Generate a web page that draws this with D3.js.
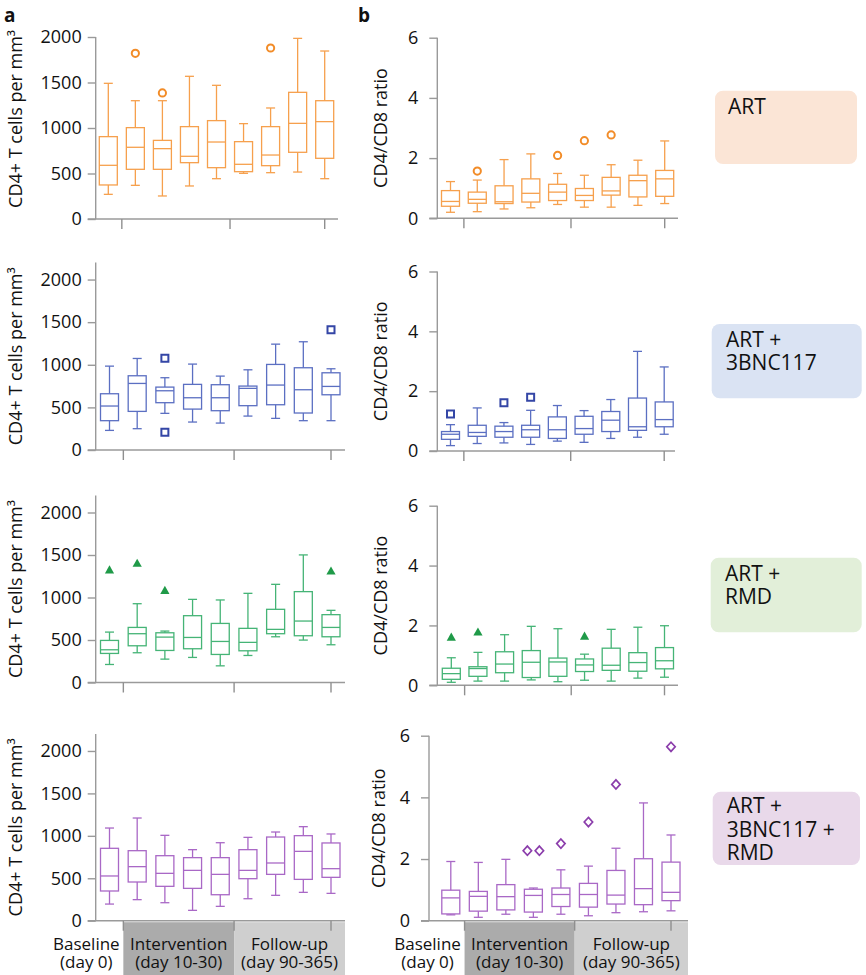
<!DOCTYPE html>
<html><head><meta charset="utf-8">
<script src="https://cdn.jsdelivr.net/npm/d3@7"></script>
<style>body{margin:0;background:#fff} svg{display:block} text{font-family:"Open Sans",sans-serif;fill:#111}</style>
</head><body>
<svg id="c" width="866" height="975"></svg>
<script>
const timepoints = ["T0","T1","T2","T3","T4","T5","T6","T7","T8"];
const groupLabels = [["ART"],["ART +","3BNC117"],["ART +","RMD"],["ART +","3BNC117 +","RMD"]];
const cd4Ticks = [0,500,1000,1500,2000];
const ratioTicks = [0,2,4,6];
const phaseLabels = [["Baseline","(day 0)"],["Intervention","(day 10-30)"],["Follow-up","(day 90-365)"]];
const cd4Title = "CD4+ T cells per mm\u00B3";
const ratioTitle = "CD4/CD8 ratio";

// each box: [low whisker, Q1, median, Q3, high whisker]
const cd4Art = [[271,374,590,905,1491],[370,546,788,1004,1300],[253,546,773,864,1300],[363,619,689,1015,1568],[443,564,846,1081,1469],[502,520,601,850,1048],[509,586,703,1015,1220],[516,733,1051,1392,1985],[443,667,1070,1300,1846]];
const cd4ArtOut = [[],[1821],[1385],[],[],[],[1879],[],[]];
const ratioArt = [[0.20,0.40,0.56,0.92,1.22],[0.22,0.50,0.63,0.87,1.27],[0.31,0.49,0.55,1.08,1.95],[0.35,0.54,0.83,1.31,2.14],[0.46,0.59,0.87,1.13,1.49],[0.37,0.59,0.76,0.99,1.43],[0.37,0.77,0.91,1.36,1.78],[0.43,0.71,1.25,1.43,1.93],[0.49,0.73,1.31,1.59,2.57]];
const ratioArtOut = [[],[1.57],[],[],[2.09],[2.58],[2.77],[],[]];

const cd4Bnc = [[230,344,516,660,984],[250,453,781,871,1074],[430,555,695,738,848],[328,480,613,770,1008],[316,461,613,766,867],[398,520,723,750,941],[371,531,762,1004,1242],[344,434,707,965,1270],[344,648,746,906,953]];
const cd4BncOut = [[],[],[1078,207],[],[],[],[],[],[1410]];
const ratioBnc = [[0.18,0.39,0.56,0.65,0.88],[0.25,0.49,0.62,0.86,1.44],[0.27,0.46,0.65,0.83,0.95],[0.22,0.46,0.71,0.86,1.36],[0.33,0.42,0.71,1.14,1.52],[0.29,0.56,0.75,1.16,1.35],[0.42,0.65,1.03,1.32,1.72],[0.46,0.69,0.81,1.77,3.33],[0.56,0.81,1.05,1.64,2.81]];
const ratioBncOut = [[1.24],[],[1.61],[1.80],[],[],[],[],[]];

const cd4Rmd = [[212,342,385,495,593],[350,432,574,648,927],[275,377,534,585,605],[295,397,530,786,978],[196,330,483,695,971],[318,373,472,637,1049],[538,574,625,861,1155],[499,550,723,1069,1501],[444,538,648,798,849]];
const cd4RmdOut = [[1324],[1403],[1084],[],[],[],[],[],[1312]];
const ratioRmd = [[0.10,0.20,0.39,0.57,0.92],[0.14,0.30,0.56,0.62,1.10],[0.14,0.42,0.71,1.12,1.69],[0.18,0.26,0.77,1.16,1.97],[0.12,0.30,0.78,0.91,1.89],[0.17,0.46,0.68,0.88,1.04],[0.14,0.50,0.67,1.24,1.87],[0.24,0.47,0.76,1.09,1.94],[0.27,0.55,0.82,1.26,1.99]];
const ratioRmdOut = [[1.61],[1.78],[],[],[],[1.64],[],[],[]];

const cd4Triple = [[196,350,527,853,1092],[248,456,637,825,1210],[212,405,558,766,1006],[122,381,593,743,837],[169,306,546,743,919],[259,495,593,837,982],[299,546,680,986,1045],[334,487,817,1002,1108],[322,511,613,916,1022]];
const cd4TripleOut = [[],[],[],[],[],[],[],[],[]];
const ratioTriple = [[0.19,0.22,0.74,0.99,1.92],[0.11,0.31,0.79,0.95,1.89],[0.21,0.35,0.78,1.17,1.99],[0.11,0.28,0.82,1.02,1.06],[0.21,0.46,0.85,1.06,1.65],[0.16,0.44,0.85,1.21,1.77],[0.26,0.54,0.83,1.63,2.35],[0.29,0.52,1.04,2.01,3.82],[0.32,0.65,0.92,1.90,2.78]];
const ratioTripleOut = [[],[],[],[2.27,2.27],[2.50],[3.20],[4.42],[],[5.64]];

// styles
const boxColors = ["#f6a04d","#5b6fc2","#45b476","#a968c6"];
const outColors = ["#f28c28","#3446a6","#1f9a48","#8b3dab"];
const legendFills = ["#fbe5d6","#dae3f3","#e2efd9","#e9d9ea"];
const markerTypes = ["circle","square","triangle","diamond"];

const svg = d3.select("#c");

const cd4Data = [cd4Art,cd4Bnc,cd4Rmd,cd4Triple];
const cd4Out = [cd4ArtOut,cd4BncOut,cd4RmdOut,cd4TripleOut];
const ratioData = [ratioArt,ratioBnc,ratioRmd,ratioTriple];
const ratioOut = [ratioArtOut,ratioBncOut,ratioRmdOut,ratioTripleOut];

// layout per row
const rows = [
  {a:{y0:219,   yTop:37,  max:2000, x0:108.3, x8:324.7, ax:95.7, xEnd:338},
   b:{y0:218.3, y6:37.7,  x0:450.5, x8:664.7, ax:437.3, xEnd:678},
   leg:{x:715, y:90.7, w:142, h:73.3, ty:113.5, tx:728}},
  {a:{y0:450,   yTop:262.5, max:2200, x0:109.5, x8:331, ax:95.7, xEnd:345},
   b:{y0:451,   y6:271.5, x0:450.5, x8:664.2, ax:437.3, xEnd:675},
   leg:{x:711.7, y:324, w:150, h:74.3, ty:346.7, tx:726}},
  {a:{y0:682.5, yTop:495.5, max:2200, x0:109.5, x8:331, ax:95.7, xEnd:345},
   b:{y0:685.3, y6:505.7, x0:451.3, x8:664.5, ax:437.3, xEnd:678},
   leg:{x:710.7, y:557.7, w:151, h:74.6, ty:580.7, tx:725}},
  {a:{y0:920.7, yTop:734, max:2200, x0:109.5, x8:331, ax:95.7, xEnd:345},
   b:{y0:920.7, y6:735.7, x0:450.8, x8:671, ax:429, xEnd:688},
   leg:{x:712.7, y:791.7, w:147.3, h:73.3, ty:813.3, tx:726.7}}
];

function markerPath(type){
  if(type==="square") return "M-3.5,-3.5H3.5V3.5H-3.5Z";
  if(type==="triangle") return "M0,-4.6L4.6,3.6H-4.6Z";
  return "M0,-4.6L4.2,0L0,4.6L-4.2,0Z";
}

function drawPanel(g, boxes, outs, y, x, gi, yTicks, yTitle, titleX, titleValue, axX, xEnd, tickPad, isBottom, y0){
  const col = boxColors[gi], ocol = outColors[gi];
  const bw = 18, cw = 9;
  const yAxis = d3.axisLeft(y).tickValues(yTicks).tickFormat(d3.format("d")).tickSize(8).tickSizeOuter(0).tickPadding(tickPad);
  const ya = g.append("g").attr("transform",`translate(${axX},0)`).call(yAxis);
  ya.selectAll("path,line").attr("stroke","#9a9a9a").attr("stroke-width",1.4);
  ya.selectAll("text").attr("font-size",18).attr("fill","#111").style("font-family","'Open Sans',sans-serif");
  ya.select(".domain").attr("d",`M0,${y.range()[1]}V${y0}`);
  const xa = g.append("g");
  xa.append("line").attr("x1",axX-8).attr("x2",xEnd).attr("y1",y0).attr("y2",y0).attr("stroke","#9a9a9a").attr("stroke-width",1.4);
  if(isBottom){
    const top = y0+1.5;
    g.append("rect").attr("x",x(0.5)).attr("y",top).attr("width",x(4.5)-x(0.5)).attr("height",975-top).attr("fill","#ababab");
    g.append("rect").attr("x",x(4.5)).attr("y",top).attr("width",xEnd-x(4.5)).attr("height",975-top).attr("fill","#cfcfcf");
    const centers = [x(0.5)-37, (x(0.5)+x(4.5))/2, (x(4.5)+xEnd)/2];
    phaseLabels.forEach((lab,k)=>{
      g.append("text").attr("text-anchor","middle").attr("font-size",17).attr("x",centers[k]).attr("y",950).text(lab[0]);
      g.append("text").attr("text-anchor","middle").attr("font-size",17).attr("x",centers[k]).attr("y",968).text(lab[1]);
    });
  }
  [0.5,4.5,8].forEach(t=>{
    xa.append("line").attr("x1",x(t)).attr("x2",x(t)).attr("y1",y0).attr("y2",y0+10).attr("stroke","#8f8f8f").attr("stroke-width",1.4);
  });
  xa.raise();
  g.append("text").attr("transform",`translate(${titleX},${y(titleValue)}) rotate(-90)`)
    .attr("text-anchor","middle").attr("font-size",18).text(yTitle);
  const bg = g.append("g").attr("fill","none").attr("stroke",col).attr("stroke-width",1.3);
  boxes.forEach((d,i)=>{
    const cx = x(i);
    const [lo,q1,md,q3,hi] = d;
    bg.append("line").attr("x1",cx).attr("x2",cx).attr("y1",y(hi)).attr("y2",y(q3));
    bg.append("line").attr("x1",cx).attr("x2",cx).attr("y1",y(q1)).attr("y2",y(lo));
    bg.append("line").attr("x1",cx-cw/2).attr("x2",cx+cw/2).attr("y1",y(hi)).attr("y2",y(hi));
    bg.append("line").attr("x1",cx-cw/2).attr("x2",cx+cw/2).attr("y1",y(lo)).attr("y2",y(lo));
    bg.append("rect").attr("x",cx-bw/2).attr("y",y(q3)).attr("width",bw).attr("height",y(q1)-y(q3));
    bg.append("line").attr("x1",cx-bw/2).attr("x2",cx+bw/2).attr("y1",y(md)).attr("y2",y(md));
  });
  const mt = markerTypes[gi];
  outs.forEach((arr,i)=>{
    arr.forEach((v,j)=>{
      const same = arr.filter(w=>Math.abs(w-v)<1e-9);
      const k = arr.slice(0,j).filter(w=>Math.abs(w-v)<1e-9).length;
      const dx = same.length>1 ? (k-(same.length-1)/2)*12 : 0;
      const cx = x(i)+dx, cy = y(v);
      if(mt==="circle"){
        g.append("circle").attr("cx",cx).attr("cy",cy).attr("r",3.6).attr("fill","none").attr("stroke",ocol).attr("stroke-width",2);
      } else if(mt==="triangle"){
        g.append("path").attr("transform",`translate(${cx},${cy})`).attr("d",markerPath(mt)).attr("fill",ocol);
      } else {
        g.append("path").attr("transform",`translate(${cx},${cy})`).attr("d",markerPath(mt)).attr("fill","none").attr("stroke",ocol).attr("stroke-width",mt==="square"?2:1.7);
      }
    });
  });
}

rows.forEach((r,gi)=>{
  const isBottom = gi===3;
  const xA = d3.scaleLinear().domain([0,8]).range([r.a.x0,r.a.x8]);
  const yA = d3.scaleLinear().domain([0,r.a.max]).range([r.a.y0,r.a.yTop]);
  drawPanel(svg.append("g"), cd4Data[gi], cd4Out[gi], yA, xA, gi, cd4Ticks, cd4Title, 22, 1100, r.a.ax, r.a.xEnd, 6, isBottom, r.a.y0);
  const xB = d3.scaleLinear().domain([0,8]).range([r.b.x0,r.b.x8]);
  const yB = d3.scaleLinear().domain([0,6]).range([r.b.y0,r.b.y6]);
  drawPanel(svg.append("g"), ratioData[gi], ratioOut[gi], yB, xB, gi, ratioTicks, ratioTitle, isBottom?385:387, 3, r.b.ax, r.b.xEnd, 11, isBottom, r.b.y0);
  const lg = svg.append("g");
  lg.append("rect").attr("x",r.leg.x).attr("y",r.leg.y).attr("width",r.leg.w).attr("height",r.leg.h).attr("rx",8).attr("fill",legendFills[gi]);
  groupLabels[gi].forEach((s,k)=>{
    lg.append("text").attr("font-size",21).attr("x",r.leg.tx).attr("y",r.leg.ty+k*23.3).text(s);
  });
});

svg.append("text").attr("x",4).attr("y",22).attr("font-size",19).attr("font-weight","bold").text("a");
svg.append("text").attr("x",358).attr("y",22).attr("font-size",19).attr("font-weight","bold").text("b");
</script>
</body></html>
